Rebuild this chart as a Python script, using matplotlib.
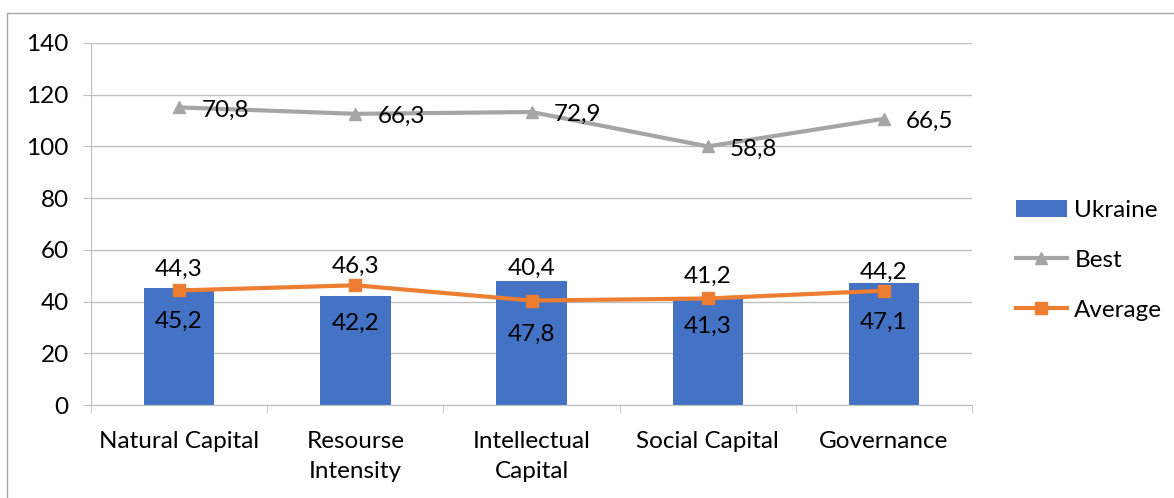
import matplotlib
matplotlib.use("Agg")
import matplotlib.pyplot as plt
from matplotlib.patches import Rectangle
import numpy as np

plt.rcParams['font.family'] = ['Lato', 'DejaVu Sans']

categories = ["Natural Capital", "Resourse\nIntensity", "Intellectual\nCapital", "Social Capital", "Governance"]
ukraine = [45.2, 42.2, 47.8, 41.3, 47.1]
average = [44.3, 46.3, 40.4, 41.2, 44.2]
best = [70.8, 66.3, 72.9, 58.8, 66.5]

# Best is stacked on top of Average (stacked line series)
best_stacked = [a + b for a, b in zip(average, best)]

# label offsets in points, nudged so numbers don't collide with lines
ukr_off = [-24, -20, -38, -20, -28]
avg_off = [15, 14, 23, 16, 13]

def fmt(v):
    return f"{v:.1f}".replace(".", ",")

fig = plt.figure(figsize=(11.74, 4.98), dpi=100)
ax = fig.add_axes([0.0775, 0.1867, 0.7505, 0.727])

x = np.arange(len(categories))
bars = ax.bar(x, ukraine, width=0.4, color="#4472C4", label="Ukraine", zorder=2)
l_best, = ax.plot(x, best_stacked, color="#A5A5A5", lw=3, marker="^", ms=8, label="Best", zorder=3)
l_avg, = ax.plot(x, average, color="#ED7D31", lw=3, marker="s", ms=8, label="Average", zorder=4)

fs = 17.5
for i in range(len(x)):
    ax.annotate(fmt(ukraine[i]), (x[i], ukraine[i]), xytext=(0, ukr_off[i]),
                textcoords="offset points", ha="center", va="center", fontsize=fs)
    ax.annotate(fmt(average[i]), (x[i], average[i]), xytext=(0, avg_off[i]),
                textcoords="offset points", ha="center", va="center", fontsize=fs)
    ax.annotate(fmt(best[i]), (x[i], best_stacked[i]), xytext=(16, -2),
                textcoords="offset points", ha="left", va="center", fontsize=fs)

ax.set_xlim(-0.5, 4.5)
ax.set_ylim(0, 140)
ax.set_yticks(range(0, 141, 20))
ax.set_xticks(x)
ax.set_xticklabels(categories, fontsize=fs, linespacing=1.5)
ax.set_xticks(np.arange(-0.5, 5, 1), minor=True)
ax.tick_params(axis="x", which="major", length=0, pad=19)
ax.tick_params(axis="x", which="minor", length=6, color="#BFBFBF")
ax.tick_params(axis="y", length=6, color="#BFBFBF", labelsize=fs, pad=10)
ax.grid(axis="y", color="#BFBFBF", lw=1, zorder=0)
ax.set_axisbelow(True)
for s in ["top", "right"]:
    ax.spines[s].set_visible(False)
for s in ["left", "bottom"]:
    ax.spines[s].set_color("#BFBFBF")

ax.legend([bars, l_best, l_avg], ["Ukraine", "Best", "Average"],
          loc="center left", bbox_to_anchor=(1.025, 0.40), frameon=False,
          fontsize=fs, handlelength=2.1, handletextpad=0.3, labelspacing=1.2)

# outer chart frame
fig.patches.append(Rectangle((7 / 1174, -0.1), 1.2, 1 - 13 / 498 + 0.1,
                             transform=fig.transFigure, fill=False,
                             edgecolor="#A6A6A6", lw=1))

fig.savefig("out.png", dpi=100)
